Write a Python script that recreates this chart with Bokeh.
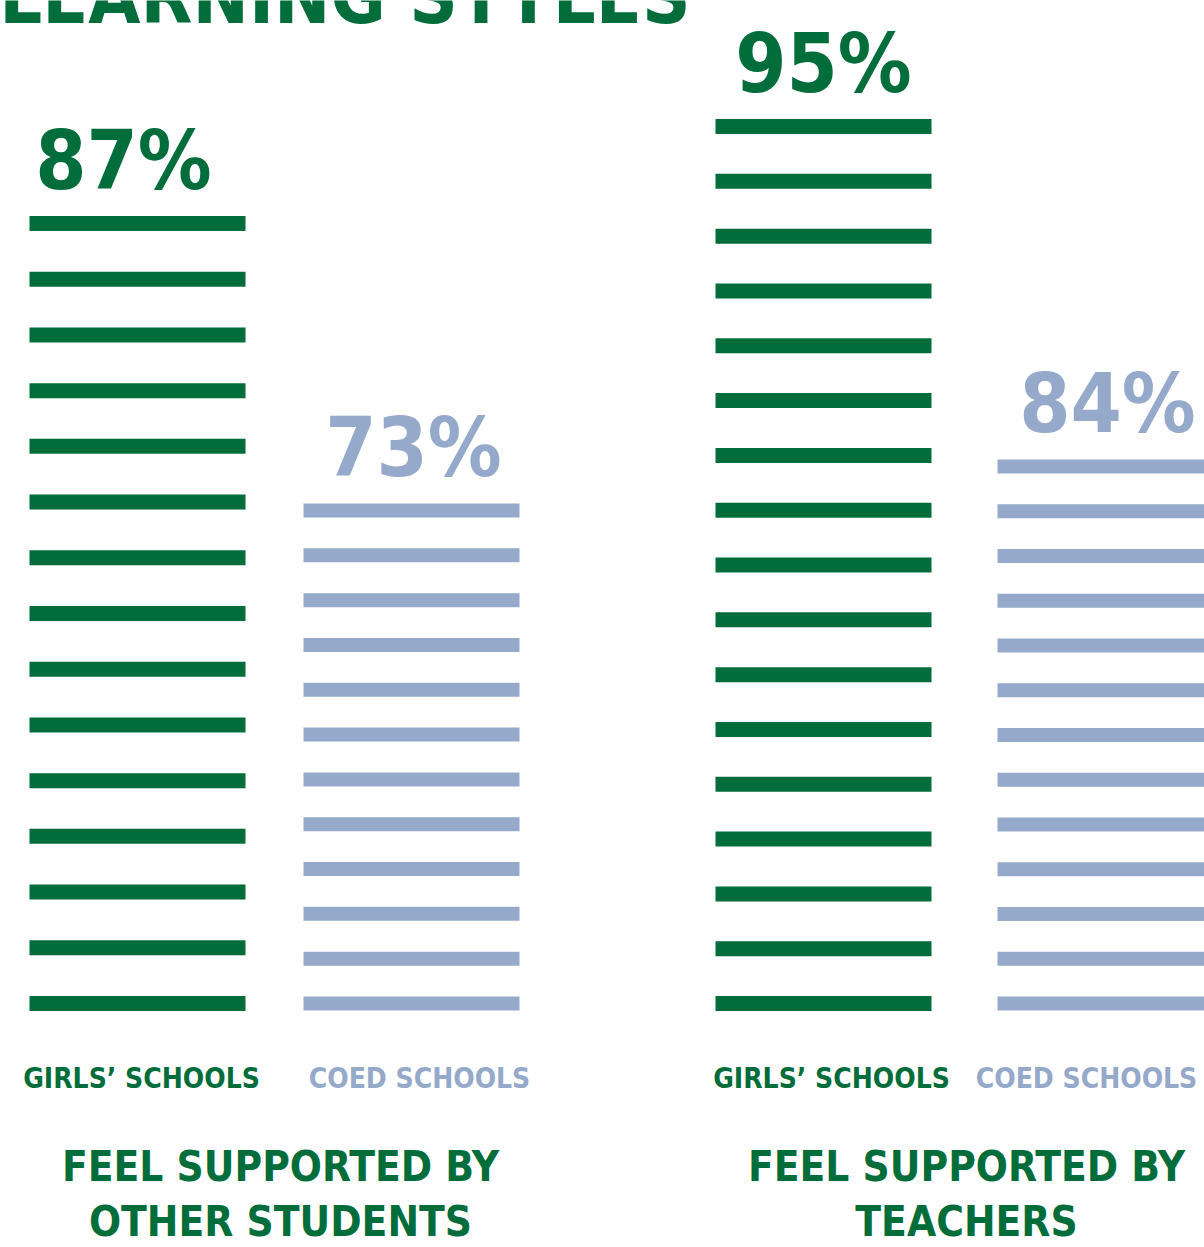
from bokeh.plotting import figure
from bokeh.models import Range1d, ColumnDataSource
from bokeh.core.properties import value
from bokeh.embed import file_html
from bokeh.resources import INLINE

# ---- data ----
title = "LEARNING STYLES"
groups = ["FEEL SUPPORTED BY\nOTHER STUDENTS", "FEEL SUPPORTED BY\nTEACHERS"]
categories = ["GIRLS\u2019 SCHOOLS", "COED SCHOOLS"]
values = [87, 73, 95, 84]          # girls, coed, girls, coed
stripe_counts = [15, 12, 17, 13]    # number of stripes drawn in each stack

GREEN = "#006D3B"
BLUE = "#95A9CA"
colors = [GREEN, BLUE, GREEN, BLUE]
FONT = value("DejaVu Sans Condensed")
BASE_SHIFT = 0.34   # fraction of font size to lift alphabetic baselines

# ---- layout (picture pixel coordinates) ----
W, H = 1204, 1247
p = figure(width=W, height=H, output_backend="svg", toolbar_location=None,
           x_range=Range1d(0, W), y_range=Range1d(H, 0),
           min_border=0)
p.axis.visible = False
p.grid.visible = False
p.outline_line_color = None
p.background_fill_color = "white"


def txt(x, y, s, size, color, align="center"):
    p.text(x=[x], y=[y - BASE_SHIFT * size], text=[s], text_font=FONT,
           text_font_style="bold", text_font_size=f"{size}px",
           text_color=color, text_align=align, text_baseline="alphabetic")


stack_left = [29, 303, 715, 997]
stack_width = 216
stack_top = [223, 510, 126, 466]
stack_bottom = 1003
thick = [15, 14, 15, 14]
label_dx = [-14, 2, 0, 2]
cat_x = [141, 419, 831, 1086]

for i in range(4):
    n = stripe_counts[i]
    step = (stack_bottom - stack_top[i]) / (n - 1)
    ys = [stack_top[i] + k * step for k in range(n)]
    src = ColumnDataSource(dict(y=ys))
    p.hbar(y="y", left=stack_left[i], right=stack_left[i] + stack_width,
           height=thick[i], source=src, color=colors[i], line_width=0)
    cx = stack_left[i] + stack_width / 2 + label_dx[i]
    txt(cx, stack_top[i] - 35, f"{values[i]}%", 82, colors[i])
    txt(cat_x[i], 1088, categories[i % 2], 28, colors[i])

group_cx = [280, 966]
for g, cx in zip(groups, group_cx):
    for j, line in enumerate(g.split("\n")):
        txt(cx, 1180 + j * 55, line, 42, GREEN)

txt(690, 22, title, 75, GREEN, align="right")

open("out.html", "w").write(file_html(p, INLINE))
